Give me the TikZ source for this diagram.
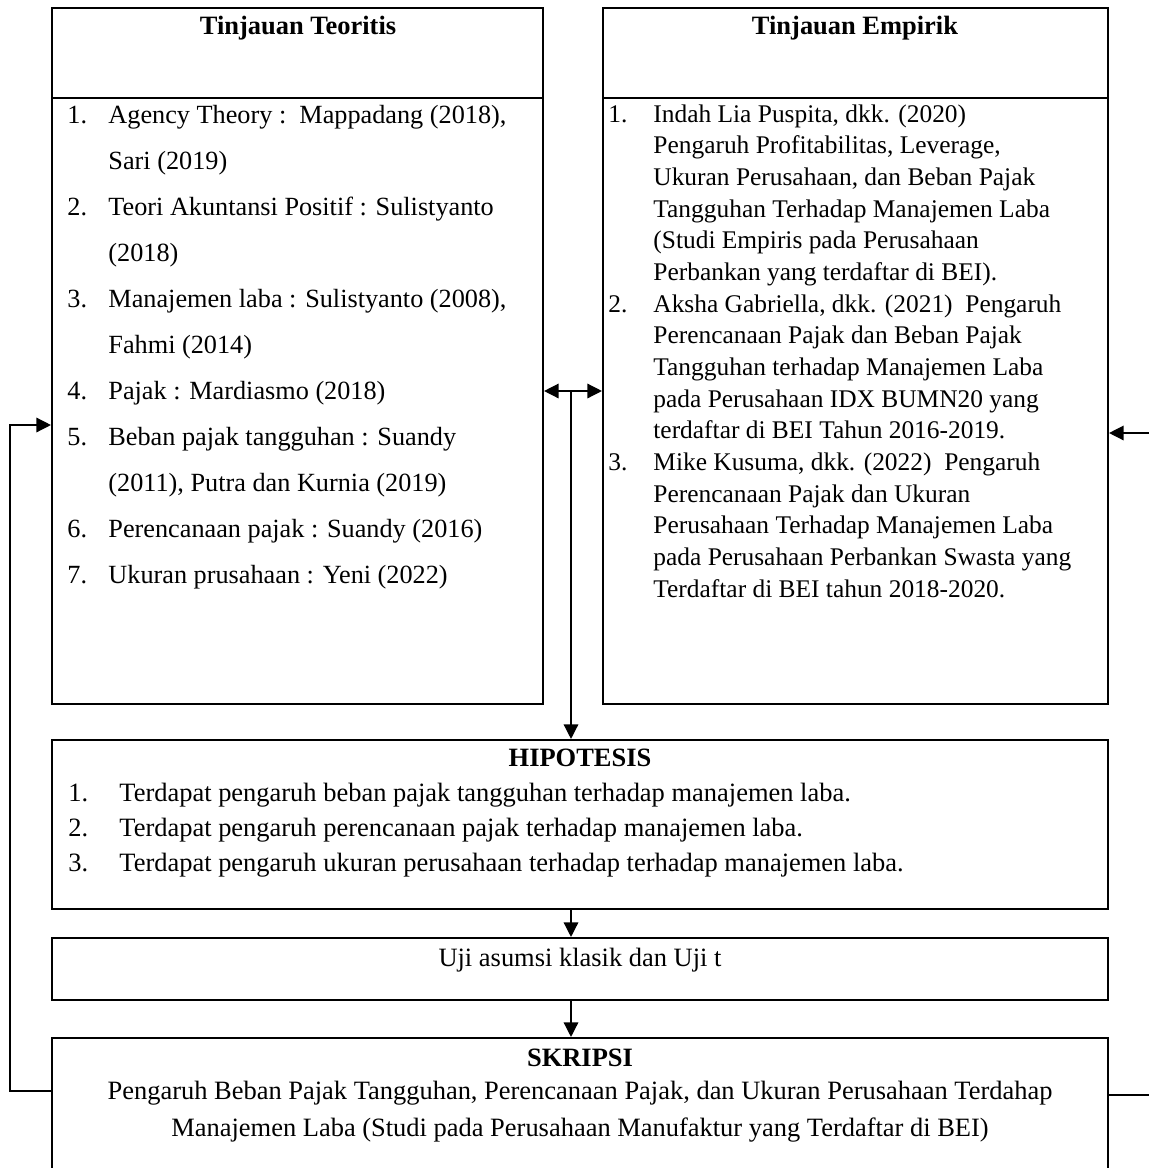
\documentclass[tikz,border=0pt]{standalone}
\usepackage{fontspec}
\setmainfont{Liberation Serif}
\usetikzlibrary{arrows.meta,fit}

\tikzset{
    box/.style={draw, line width=1pt, inner sep=0pt},
    link/.style={line width=0.65pt, -{Triangle[length=7pt,width=7pt]}},
    txt/.style={anchor=base west, align=left, inner sep=0pt},
    head/.style={anchor=base, inner sep=0pt, font=\fontsize{12.7}{15}\selectfont\bfseries},
}
\newcommand{\nrL}[1]{\makebox[19.7pt][l]{#1}}
\newcommand{\nrR}[1]{\makebox[21.6pt][l]{#1}}
\newcommand{\nrH}[1]{\makebox[24.5pt][l]{#1}}

\begin{document}
\begin{tikzpicture}[x=0.48pt,y=-0.48pt,font=\fontsize{12.7}{15}\selectfont]
    \useasboundingbox (0,0) rectangle (1148,1168);
    \node[box, fit={(52,8) (543,98)}] (teoriHead) {};
    \node[box, fit={(52,98) (543,704)}] (teoriBody) {};
    \node[box, fit={(603,8) (1108,98)}] (empirikHead) {};
    \node[box, fit={(603,98) (1108,704)}] (empirikBody) {};
    \node[box, fit={(52,740) (1108,909)}] (hipo) {};
    \node[box, fit={(52,938) (1108,1000)}] (uji) {};
    \node[box, fit={(52,1038) (1108,1190)}] (skripsi) {};

    \node[head] (teoriTitle) at (298,34) {Tinjauan Teoritis};
    \node[head] (empirikTitle) at (855,34) {Tinjauan Empirik};
    % base = last line
    \node[txt, font=\fontsize{12.6}{22.08}\selectfont] (teoriList) at (67,583) {%
        \nrL{1.}Agency Theory :\ \ Mappadang (2018),\\
        \nrL{}Sari (2019)\\
        \nrL{2.}Teori Akuntansi Positif : Sulistyanto\\
        \nrL{}(2018)\\
        \nrL{3.}Manajemen laba : Sulistyanto (2008),\\
        \nrL{}Fahmi (2014)\\
        \nrL{4.}Pajak : Mardiasmo (2018)\\
        \nrL{5.}Beban pajak tangguhan : Suandy\\
        \nrL{}(2011), Putra dan Kurnia (2019)\\
        \nrL{6.}Perencanaan pajak : Suandy (2016)\\
        \nrL{7.}Ukuran prusahaan : Yeni (2022)};
    \node[txt, font=\fontsize{12.2}{15.2}\selectfont] (empirikList) at (608,597) {%
        \nrR{1.}Indah Lia Puspita, dkk. (2020)\\
        \nrR{}Pengaruh Profitabilitas, Leverage,\\
        \nrR{}Ukuran Perusahaan, dan Beban Pajak\\
        \nrR{}Tangguhan Terhadap Manajemen Laba\\
        \nrR{}(Studi Empiris pada Perusahaan\\
        \nrR{}Perbankan yang terdaftar di BEI).\\
        \nrR{2.}Aksha Gabriella, dkk. (2021)\ \ Pengaruh\\
        \nrR{}Perencanaan Pajak dan Beban Pajak\\
        \nrR{}Tangguhan terhadap Manajemen Laba\\
        \nrR{}pada Perusahaan IDX BUMN20 yang\\
        \nrR{}terdaftar di BEI Tahun 2016-2019.\\
        \nrR{3.}Mike Kusuma, dkk. (2022)\ \ Pengaruh\\
        \nrR{}Perencanaan Pajak dan Ukuran\\
        \nrR{}Perusahaan Terhadap Manajemen Laba\\
        \nrR{}pada Perusahaan Perbankan Swasta yang\\
        \nrR{}Terdaftar di BEI tahun 2018-2020.};

    \node[head] (hipoTitle) at (580,766) {HIPOTESIS};
    \node[txt, font=\fontsize{12.7}{16.8}\selectfont] (hipoList) at (68,871) {%
        \nrH{1.}Terdapat pengaruh beban pajak tangguhan terhadap manajemen laba.\\
        \nrH{2.}Terdapat pengaruh perencanaan pajak terhadap manajemen laba.\\
        \nrH{3.}Terdapat pengaruh ukuran perusahaan terhadap terhadap manajemen laba.};
    \node[anchor=base, inner sep=0pt] (ujiText) at (580,966) {Uji asumsi klasik dan Uji t};
    \node[head] (skripsiTitle) at (580,1066) {SKRIPSI};
    \node[anchor=base, inner sep=0pt, align=center, font=\fontsize{12.7}{17.3}\selectfont] (skripsiText) at (580,1136) {%
        Pengaruh Beban Pajak Tangguhan, Perencanaan Pajak, dan Ukuran Perusahaan Terdahap\\
        Manajemen Laba (Studi pada Perusahaan Manufaktur yang Terdaftar di BEI)};

    \coordinate (mid) at (571,391);
    \coordinate (loopL) at (10,425);
    \coordinate (loopR) at (1175,433);
    \draw[link] (mid) -- (mid -| teoriBody.east);
    \draw[link] (mid) -- (mid -| empirikBody.west);
    \draw[link] (mid) -- (mid |- hipo.north);
    \draw[link] (hipo.south -| mid) -- (uji.north -| mid);
    \draw[link] (uji.south -| mid) -- (skripsi.north -| mid);
    \draw[link] (skripsi.west |- 0,1091) -| (loopL) -- (loopL -| teoriBody.west);
    \draw[link] (skripsi.east |- 0,1095) -| (loopR) -- (loopR -| empirikBody.east);
\end{tikzpicture}
\end{document}
